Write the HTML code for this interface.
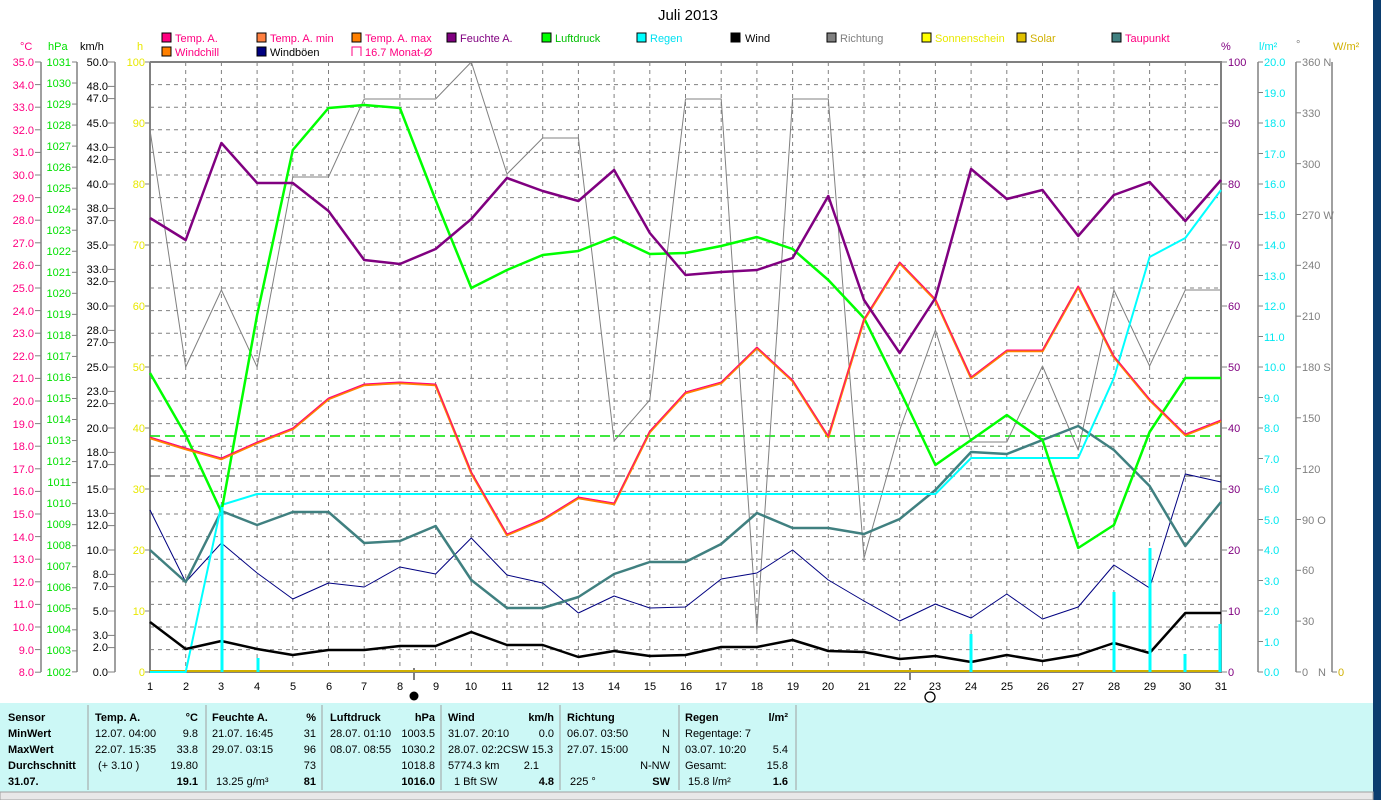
<!DOCTYPE html>
<html><head><meta charset="utf-8"><style>
html,body{margin:0;padding:0;background:#fff;width:1381px;height:800px;overflow:hidden}
svg{position:absolute;left:0;top:0}
text{font-family:"Liberation Sans",sans-serif;font-size:11px}
</style></head><body>
<svg width="1381" height="800" xmlns="http://www.w3.org/2000/svg">
<rect x="1373" y="0" width="8" height="800" fill="#0b3d6e"/>
<text x="688" y="20" font-size="15" text-anchor="middle" style="font-size:15px">Juli 2013</text>
<g font-size="11">
<rect x="162" y="33" width="9" height="9" fill="#ff0080" stroke="#000"/><text x="175" y="42" fill="#ff0080">Temp. A.</text>
<rect x="257" y="33" width="9" height="9" fill="#ff8040" stroke="#000"/><text x="270" y="42" fill="#ff0080">Temp. A. min</text>
<rect x="352" y="33" width="9" height="9" fill="#ff8000" stroke="#000"/><text x="365" y="42" fill="#ff0080">Temp. A. max</text>
<rect x="447" y="33" width="9" height="9" fill="#800080" stroke="#000"/><text x="460" y="42" fill="#800080">Feuchte A.</text>
<rect x="542" y="33" width="9" height="9" fill="#00ff00" stroke="#000"/><text x="555" y="42" fill="#00c000">Luftdruck</text>
<rect x="637" y="33" width="9" height="9" fill="#00ffff" stroke="#000"/><text x="650" y="42" fill="#00e0f0">Regen</text>
<rect x="731" y="33" width="9" height="9" fill="#000" stroke="#000"/><text x="745" y="42" fill="#000">Wind</text>
<rect x="827" y="33" width="9" height="9" fill="#808080" stroke="#000"/><text x="840" y="42" fill="#808080">Richtung</text>
<rect x="922" y="33" width="9" height="9" fill="#ffff00" stroke="#000"/><text x="935" y="42" fill="#e8e800">Sonnenschein</text>
<rect x="1017" y="33" width="9" height="9" fill="#e0c000" stroke="#000"/><text x="1030" y="42" fill="#d0b000">Solar</text>
<rect x="1112" y="33" width="9" height="9" fill="#408080" stroke="#000"/><text x="1125" y="42" fill="#ff0080">Taupunkt</text>
<rect x="162" y="47" width="9" height="9" fill="#ff8000" stroke="#000"/><text x="175" y="56" fill="#ff0080">Windchill</text>
<rect x="257" y="47" width="9" height="9" fill="#000080" stroke="#000"/><text x="270" y="56" fill="#000">Windböen</text>
<path d="M352 56 V47 H361 V56" fill="none" stroke="#ff0080"/><text x="365" y="56" fill="#ff0080">16.7 Monat-Ø</text>
</g>
<text x="20" y="50" fill="#ff0080">°C</text><text x="48" y="50" fill="#00e000">hPa</text><text x="80" y="50" fill="#000">km/h</text><text x="137" y="50" fill="#e8e800">h</text>
<text x="1221" y="50" fill="#800080">%</text><text x="1259" y="50" fill="#00e8f0">l/m²</text><text x="1296" y="48" fill="#808080">°</text><text x="1333" y="50" fill="#d0b000">W/m²</text>
<g id="grid"></g>
<g stroke="#808080" stroke-width="1.5">
<line x1="41" y1="62" x2="41" y2="672"/><line x1="77" y1="62" x2="77" y2="672"/><line x1="115" y1="62" x2="115" y2="672"/>
<line x1="1258" y1="62" x2="1258" y2="672"/><line x1="1296" y1="62" x2="1296" y2="672"/><line x1="1332" y1="62" x2="1332" y2="672"/>
</g>
<g id="ticks" stroke="#808080"></g>
<g fill="#ff0080" text-anchor="end">
<text x="34" y="66">35.0</text><text x="34" y="89">34.0</text><text x="34" y="111">33.0</text><text x="34" y="134">32.0</text><text x="34" y="156">31.0</text><text x="34" y="179">30.0</text><text x="34" y="202">29.0</text><text x="34" y="224">28.0</text><text x="34" y="247">27.0</text><text x="34" y="269">26.0</text><text x="34" y="292">25.0</text><text x="34" y="315">24.0</text><text x="34" y="337">23.0</text><text x="34" y="360">22.0</text><text x="34" y="382">21.0</text><text x="34" y="405">20.0</text><text x="34" y="428">19.0</text><text x="34" y="450">18.0</text><text x="34" y="473">17.0</text><text x="34" y="495">16.0</text><text x="34" y="518">15.0</text><text x="34" y="541">14.0</text><text x="34" y="563">13.0</text><text x="34" y="586">12.0</text><text x="34" y="608">11.0</text><text x="34" y="631">10.0</text><text x="34" y="654">9.0</text><text x="34" y="676">8.0</text>
</g>
<g fill="#00e000" text-anchor="end">
<text x="71" y="66">1031</text><text x="71" y="87">1030</text><text x="71" y="108">1029</text><text x="71" y="129">1028</text><text x="71" y="150">1027</text><text x="71" y="171">1026</text><text x="71" y="192">1025</text><text x="71" y="213">1024</text><text x="71" y="234">1023</text><text x="71" y="255">1022</text><text x="71" y="276">1021</text><text x="71" y="297">1020</text><text x="71" y="318">1019</text><text x="71" y="339">1018</text><text x="71" y="360">1017</text><text x="71" y="381">1016</text><text x="71" y="402">1015</text><text x="71" y="423">1014</text><text x="71" y="444">1013</text><text x="71" y="465">1012</text><text x="71" y="486">1011</text><text x="71" y="507">1010</text><text x="71" y="528">1009</text><text x="71" y="549">1008</text><text x="71" y="570">1007</text><text x="71" y="591">1006</text><text x="71" y="612">1005</text><text x="71" y="633">1004</text><text x="71" y="654">1003</text><text x="71" y="676">1002</text>
</g>
<g fill="#000" text-anchor="end">
<text x="108" y="66">50.0</text><text x="108" y="90">48.0</text><text x="108" y="102">47.0</text><text x="108" y="127">45.0</text><text x="108" y="151">43.0</text><text x="108" y="163">42.0</text><text x="108" y="188">40.0</text><text x="108" y="212">38.0</text><text x="108" y="224">37.0</text><text x="108" y="249">35.0</text><text x="108" y="273">33.0</text><text x="108" y="285">32.0</text><text x="108" y="310">30.0</text><text x="108" y="334">28.0</text><text x="108" y="346">27.0</text><text x="108" y="371">25.0</text><text x="108" y="395">23.0</text><text x="108" y="407">22.0</text><text x="108" y="432">20.0</text><text x="108" y="456">18.0</text><text x="108" y="468">17.0</text><text x="108" y="493">15.0</text><text x="108" y="517">13.0</text><text x="108" y="529">12.0</text><text x="108" y="554">10.0</text><text x="108" y="578">8.0</text><text x="108" y="590">7.0</text><text x="108" y="615">5.0</text><text x="108" y="639">3.0</text><text x="108" y="651">2.0</text><text x="108" y="676">0.0</text>
</g>
<g fill="#e8e800" text-anchor="end">
<text x="145" y="66">100</text><text x="145" y="127">90</text><text x="145" y="188">80</text><text x="145" y="249">70</text><text x="145" y="310">60</text><text x="145" y="371">50</text><text x="145" y="432">40</text><text x="145" y="493">30</text><text x="145" y="554">20</text><text x="145" y="615">10</text><text x="145" y="676">0</text>
</g>
<g fill="#800080">
<text x="1228" y="66">100</text><text x="1228" y="127">90</text><text x="1228" y="188">80</text><text x="1228" y="249">70</text><text x="1228" y="310">60</text><text x="1228" y="371">50</text><text x="1228" y="432">40</text><text x="1228" y="493">30</text><text x="1228" y="554">20</text><text x="1228" y="615">10</text><text x="1228" y="676">0</text>
</g>
<g fill="#00e8f0">
<text x="1264" y="66">20.0</text><text x="1264" y="97">19.0</text><text x="1264" y="127">18.0</text><text x="1264" y="158">17.0</text><text x="1264" y="188">16.0</text><text x="1264" y="219">15.0</text><text x="1264" y="249">14.0</text><text x="1264" y="280">13.0</text><text x="1264" y="310">12.0</text><text x="1264" y="341">11.0</text><text x="1264" y="371">10.0</text><text x="1264" y="402">9.0</text><text x="1264" y="432">8.0</text><text x="1264" y="463">7.0</text><text x="1264" y="493">6.0</text><text x="1264" y="524">5.0</text><text x="1264" y="554">4.0</text><text x="1264" y="585">3.0</text><text x="1264" y="615">2.0</text><text x="1264" y="646">1.0</text><text x="1264" y="676">0.0</text>
</g>
<g fill="#808080">
<text x="1302" y="66">360 N</text><text x="1302" y="117">330</text><text x="1302" y="168">300</text><text x="1302" y="219">270 W</text><text x="1302" y="269">240</text><text x="1302" y="320">210</text><text x="1302" y="371">180 S</text><text x="1302" y="422">150</text><text x="1302" y="473">120</text><text x="1302" y="524">90  O</text><text x="1302" y="574">60</text><text x="1302" y="625">30</text><text x="1302" y="676">0</text><text x="1318" y="676">N</text>
</g>
<text x="1338" y="676" fill="#d0b000">0</text>
<g fill="#000" text-anchor="middle">
<text x="150" y="690">1</text><text x="186" y="690">2</text><text x="221" y="690">3</text><text x="257" y="690">4</text><text x="293" y="690">5</text><text x="329" y="690">6</text><text x="364" y="690">7</text><text x="400" y="690">8</text><text x="436" y="690">9</text><text x="471" y="690">10</text><text x="507" y="690">11</text><text x="543" y="690">12</text><text x="578" y="690">13</text><text x="614" y="690">14</text><text x="650" y="690">15</text><text x="686" y="690">16</text><text x="721" y="690">17</text><text x="757" y="690">18</text><text x="793" y="690">19</text><text x="828" y="690">20</text><text x="864" y="690">21</text><text x="900" y="690">22</text><text x="935" y="690">23</text><text x="971" y="690">24</text><text x="1007" y="690">25</text><text x="1043" y="690">26</text><text x="1078" y="690">27</text><text x="1114" y="690">28</text><text x="1150" y="690">29</text><text x="1185" y="690">30</text><text x="1221" y="690">31</text>
</g>
<line x1="414" y1="668" x2="414" y2="680" stroke="#000"/><circle cx="414" cy="696" r="4.5" fill="#000"/>
<line x1="910" y1="668" x2="910" y2="680" stroke="#000"/><circle cx="930" cy="697" r="5" fill="none" stroke="#000" stroke-width="1.3"/>
<g stroke="#808080" stroke-width="2" fill="none">
<line x1="150" y1="62" x2="1222" y2="62"/><line x1="150" y1="62" x2="150" y2="673"/><line x1="1221" y1="62" x2="1221" y2="673"/><line x1="150" y1="672" x2="1221" y2="672"/>
</g>
<line x1="150" y1="671" x2="1221" y2="671" stroke="#d0b000" stroke-width="2"/>
<line x1="150" y1="436" x2="1221" y2="436" stroke="#00e000" stroke-dasharray="10,5" stroke-width="1.5"/>
<line x1="150" y1="476" x2="1221" y2="476" stroke="#404040" stroke-dasharray="10,5" stroke-width="1"/>
<g fill="none" stroke-linejoin="round">
<polyline stroke="#808080" stroke-width="1" points="150,130 185.7,367 221.4,290 257.1,367 292.8,177 328.5,177 364.2,99 399.9,99 435.6,99 471.3,62 507,174 542.7,138 578.4,138 614.1,441 649.8,400 685.5,99 721.2,99 756.9,630 792.6,99 828.3,99 864,558 899.7,430 935.4,330 971.1,442 1006.8,442 1042.5,366 1078.2,450 1113.9,290 1149.6,366 1185.3,290 1221,290"/>
<polyline stroke="#000080" stroke-width="1" points="150,510 185.7,582 221.4,543 257.1,573 292.8,599 328.5,583 364.2,587 399.9,567 435.6,574 471.3,538 507,575 542.7,583 578.4,613 614.1,596 649.8,608 685.5,607 721.2,579 756.9,573 792.6,550 828.3,580 864,601 899.7,621 935.4,604 971.1,618 1006.8,594 1042.5,619 1078.2,607 1113.9,565 1149.6,588 1185.3,474 1221,482"/>
<polyline stroke="#408080" stroke-width="2.5" points="150,550 185.7,582 221.4,511 257.1,525 292.8,512 328.5,512 364.2,543 399.9,541 435.6,526 471.3,580 507,608 542.7,608 578.4,597 614.1,574 649.8,562 685.5,562 721.2,544 756.9,513 792.6,528 828.3,528 864,534 899.7,519 935.4,490 971.1,452 1006.8,454 1042.5,440 1078.2,426 1113.9,450 1149.6,486 1185.3,546 1221,502"/>
<polyline stroke="#00ffff" stroke-width="2" points="150,672 185.7,672 221.4,505 257.1,494 935.4,494 971.1,458 1078.2,458 1113.9,378 1149.6,257 1185.3,238 1221,190"/>
<polyline stroke="#00ff00" stroke-width="2.5" points="150,373 185.7,435 221.4,512 257.1,315 292.8,150 328.5,108 364.2,105 399.9,108 435.6,200 471.3,288 507,270 542.7,255 578.4,251 614.1,237 649.8,254 685.5,253 721.2,246 756.9,237 792.6,249 828.3,280 864,318 899.7,390 935.4,465 971.1,440 1006.8,415 1042.5,440 1078.2,548 1113.9,525 1149.6,432 1185.3,378 1221,378"/>
<polyline stroke="#ff8000" stroke-width="2.5" points="150,438 185.7,449 221.4,459 257.1,443 292.8,429 328.5,399 364.2,385 399.9,383 435.6,385 471.3,473 507,535 542.7,520 578.4,498 614.1,504 649.8,432 685.5,393 721.2,383 756.9,348 792.6,381 828.3,437 864,320 899.7,263 935.4,300 971.1,378 1006.8,351 1042.5,351 1078.2,287 1113.9,357 1149.6,400 1185.3,435 1221,421"/>
<polyline stroke="#ff0080" stroke-width="1" points="150,437 185.7,448 221.4,458 257.1,442 292.8,428 328.5,398 364.2,384 399.9,382 435.6,384 471.3,472 507,534 542.7,519 578.4,497 614.1,503 649.8,431 685.5,392 721.2,382 756.9,347 792.6,380 828.3,436 864,319 899.7,262 935.4,299 971.1,377 1006.8,350 1042.5,350 1078.2,286 1113.9,356 1149.6,399 1185.3,434 1221,420"/>
<polyline stroke="#800080" stroke-width="2.5" points="150,218 185.7,240 221.4,143 257.1,183 292.8,183 328.5,211 364.2,260 399.9,264 435.6,249 471.3,219 507,178 542.7,191 578.4,201 614.1,170 649.8,233 685.5,275 721.2,272 756.9,270 792.6,258 828.3,196 864,300 899.7,353 935.4,298 971.1,169 1006.8,199 1042.5,190 1078.2,236 1113.9,195 1149.6,182 1185.3,221 1221,180"/>
<polyline stroke="#000" stroke-width="2.5" points="150,622 185.7,649 221.4,641 257.1,649 292.8,655 328.5,650 364.2,650 399.9,646 435.6,646 471.3,632 507,645 542.7,645 578.4,657 614.1,651 649.8,656 685.5,655 721.2,647 756.9,647 792.6,640 828.3,651 864,652 899.7,659 935.4,656 971.1,662 1006.8,655 1042.5,661 1078.2,655 1113.9,643 1149.6,653 1185.3,613 1221,613"/>
</g>
<g stroke="#00ffff" stroke-width="3">
<line x1="222" y1="672" x2="222" y2="507"/><line x1="258" y1="672" x2="258" y2="658"/><line x1="971" y1="672" x2="971" y2="634"/><line x1="1114" y1="672" x2="1114" y2="592"/><line x1="1150" y1="672" x2="1150" y2="548"/><line x1="1185" y1="672" x2="1185" y2="654"/><line x1="1220" y1="672" x2="1220" y2="624"/>
</g>
<rect x="0" y="703" width="1373" height="89" fill="#ccf8f6"/>
<g stroke="#a0a0a0"><line x1="88" y1="705" x2="88" y2="790"/><line x1="206" y1="705" x2="206" y2="790"/><line x1="322" y1="705" x2="322" y2="790"/><line x1="441" y1="705" x2="441" y2="790"/><line x1="560" y1="705" x2="560" y2="790"/><line x1="679" y1="705" x2="679" y2="790"/><line x1="796" y1="705" x2="796" y2="790"/></g>
<rect x="0" y="792" width="1373" height="8" fill="#e8e8e8" stroke="#a0a0a0"/>
<g font-size="11">
<g font-weight="bold"><text x="8" y="721">Sensor</text><text x="8" y="737">MinWert</text><text x="8" y="753">MaxWert</text><text x="8" y="769">Durchschnitt</text><text x="8" y="785">31.07.</text>
<text x="95" y="721">Temp. A.</text><text x="198" y="721" text-anchor="end">°C</text>
<text x="212" y="721">Feuchte A.</text><text x="316" y="721" text-anchor="end">%</text>
<text x="330" y="721">Luftdruck</text><text x="435" y="721" text-anchor="end">hPa</text>
<text x="448" y="721">Wind</text><text x="554" y="721" text-anchor="end">km/h</text>
<text x="567" y="721">Richtung</text>
<text x="685" y="721">Regen</text><text x="788" y="721" text-anchor="end">l/m²</text>
<text x="198" y="785" text-anchor="end">19.1</text><text x="316" y="785" text-anchor="end">81</text><text x="435" y="785" text-anchor="end">1016.0</text><text x="554" y="785" text-anchor="end">4.8</text><text x="670" y="785" text-anchor="end">SW</text><text x="788" y="785" text-anchor="end">1.6</text></g>
<text x="95" y="737">12.07.  04:00</text><text x="198" y="737" text-anchor="end">9.8</text>
<text x="95" y="753">22.07.  15:35</text><text x="198" y="753" text-anchor="end">33.8</text>
<text x="98" y="769">(+ 3.10 )</text><text x="198" y="769" text-anchor="end">19.80</text>
<text x="212" y="737">21.07.  16:45</text><text x="316" y="737" text-anchor="end">31</text>
<text x="212" y="753">29.07.  03:15</text><text x="316" y="753" text-anchor="end">96</text>
<text x="316" y="769" text-anchor="end">73</text><text x="216" y="785">13.25 g/m³</text>
<text x="330" y="737">28.07.  01:10</text><text x="435" y="737" text-anchor="end">1003.5</text>
<text x="330" y="753">08.07.  08:55</text><text x="435" y="753" text-anchor="end">1030.2</text>
<text x="435" y="769" text-anchor="end">1018.8</text>
<text x="448" y="737">31.07.  20:10</text><text x="554" y="737" text-anchor="end">0.0</text>
<text x="448" y="753">28.07.  02:2CSW 15.3</text>
<text x="448" y="769">5774.3 km</text><text x="539" y="769" text-anchor="end">2.1</text>
<text x="454" y="785">1 Bft SW</text>
<text x="567" y="737">06.07.  03:50</text><text x="670" y="737" text-anchor="end">N</text>
<text x="567" y="753">27.07.  15:00</text><text x="670" y="753" text-anchor="end">N</text>
<text x="670" y="769" text-anchor="end">N-NW</text><text x="570" y="785">225 °</text>
<text x="685" y="737">Regentage: 7</text>
<text x="685" y="753">03.07.  10:20</text><text x="788" y="753" text-anchor="end">5.4</text>
<text x="685" y="769">Gesamt:</text><text x="788" y="769" text-anchor="end">15.8</text>
<text x="688" y="785">15.8 l/m²</text>
</g>
</svg>
<script>
(function(){
var ns="http://www.w3.org/2000/svg",g=document.getElementById('grid'),t=document.getElementById('ticks');
function L(p,x1,y1,x2,y2,a){var l=document.createElementNS(ns,'line');l.setAttribute('x1',x1);l.setAttribute('y1',y1);l.setAttribute('x2',x2);l.setAttribute('y2',y2);for(var k in a)l.setAttribute(k,a[k]);p.appendChild(l);}
var da={stroke:'#808080','stroke-dasharray':'4,4'};
for(var k=1;k<27;k++){var y=62+22.6*k;L(g,150,y,1221,y,da);}
for(var d=2;d<=30;d++){var x=150+(d-1)*35.7;L(g,x,62,x,672,da);}
for(var k=0;k<=27;k++)L(t,35,62+22.6*k,41,62+22.6*k,{});
for(var k=0;k<=29;k++)L(t,72,62+21.03*k,77,62+21.03*k,{});
[50,48,47,45,43,42,40,38,37,35,33,32,30,28,27,25,23,22,20,18,17,15,13,12,10,8,7,5,3,2,0].forEach(function(v){L(t,108,672-12.2*v,115,672-12.2*v,{});});
for(var k=0;k<=10;k++){L(t,145,62+61*k,150,62+61*k,{});L(t,1221,62+61*k,1227,62+61*k,{});}
for(var k=0;k<=20;k++)L(t,1258,62+30.5*k,1263,62+30.5*k,{});
for(var k=0;k<=12;k++)L(t,1296,62+50.83*k,1301,62+50.83*k,{});
L(t,1332,672,1337,672,{});
})();
</script>
</body></html>
